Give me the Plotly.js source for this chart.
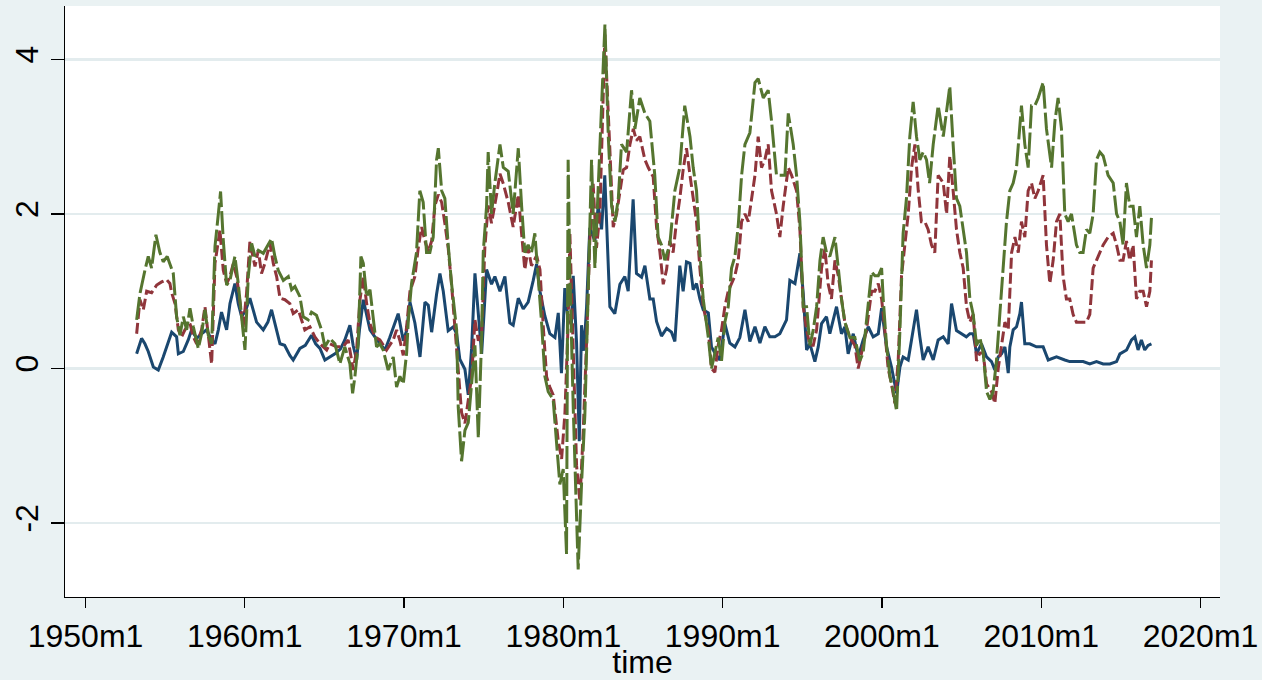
<!DOCTYPE html>
<html>
<head>
<meta charset="utf-8">
<script src="https://cdn.plot.ly/plotly-3.0.1.min.js"></script>
<style>html,body{margin:0;padding:0;background:#EAF2F3;}#chart{width:1262px;height:680px;}</style>
</head>
<body>
<div id="chart"></div>
<script>
// x tick positions (years) and labels
const tickYears = [1950, 1960, 1970, 1980, 1990, 2000, 2010, 2020];
const tickLabels = ["1950m1", "1960m1", "1970m1", "1980m1", "1990m1", "2000m1", "2010m1", "2020m1"];
const yTicks = [-2, 0, 2, 4];

// series 1 (navy, solid): [decimal year, value]
const seriesNavy = [[1953.21,0.19],[1953.52,0.39],[1953.73,0.32],[1953.94,0.22],[1954.26,0.02],[1954.57,-0.02],[1954.88,0.15],[1955.09,0.28],[1955.41,0.47],[1955.72,0.41],[1955.83,0.19],[1956.14,0.22],[1956.45,0.37],[1956.66,0.5],[1956.98,0.39],[1957.29,0.45],[1957.6,0.5],[1957.92,0.37],[1958.13,0.32],[1958.34,0.5],[1958.54,0.73],[1958.86,0.5],[1959.07,0.84],[1959.38,1.1],[1959.59,0.84],[1959.8,0.67],[1960.05,0.75],[1960.32,0.91],[1960.55,0.75],[1960.74,0.6],[1961.16,0.5],[1961.45,0.6],[1961.68,0.76],[1961.95,0.55],[1962.21,0.32],[1962.5,0.3],[1962.83,0.17],[1963.04,0.11],[1963.46,0.26],[1963.8,0.3],[1964.19,0.43],[1964.45,0.32],[1964.72,0.26],[1965.03,0.11],[1965.35,0.15],[1965.66,0.19],[1966.0,0.25],[1966.28,0.37],[1966.6,0.56],[1966.8,0.3],[1967.02,0.11],[1967.2,0.5],[1967.44,0.89],[1967.65,0.7],[1967.86,0.5],[1968.2,0.4],[1968.48,0.32],[1968.8,0.24],[1969.1,0.4],[1969.32,0.54],[1969.63,0.71],[1969.95,0.36],[1970.16,0.49],[1970.37,0.86],[1970.68,0.59],[1971.0,0.15],[1971.31,0.86],[1971.52,0.82],[1971.73,0.47],[1972.04,0.96],[1972.25,1.23],[1972.46,1.0],[1972.77,0.49],[1973.09,0.54],[1973.3,0.45],[1973.5,0.12],[1973.82,-0.01],[1974.03,-0.34],[1974.24,0.26],[1974.45,1.23],[1974.66,0.72],[1974.87,0.19],[1975.18,1.28],[1975.49,1.09],[1975.7,1.19],[1976.02,1.0],[1976.33,1.19],[1976.64,0.59],[1976.85,0.56],[1977.17,0.91],[1977.48,0.77],[1977.79,0.86],[1978.11,1.14],[1978.32,1.35],[1978.53,1.0],[1978.84,0.68],[1979.15,0.45],[1979.47,0.4],[1979.68,0.72],[1979.88,-0.06],[1980.09,1.04],[1980.3,0.61],[1980.51,0.59],[1980.62,1.2],[1980.83,0.33],[1981.0,-0.94],[1981.14,0.56],[1981.29,0.23],[1981.46,0.8],[1981.66,1.82],[1981.98,1.65],[1982.19,2.11],[1982.4,1.8],[1982.6,2.5],[1982.92,0.8],[1983.23,0.71],[1983.55,1.09],[1983.86,1.19],[1984.07,1.0],[1984.38,2.19],[1984.59,1.23],[1984.91,1.18],[1985.12,1.33],[1985.43,0.9],[1985.64,0.9],[1985.85,0.61],[1986.16,0.42],[1986.48,0.52],[1986.79,0.47],[1987.0,0.35],[1987.31,1.33],[1987.52,1.0],[1987.73,1.38],[1987.95,1.36],[1988.15,1.02],[1988.36,1.1],[1988.57,0.9],[1988.78,0.76],[1989.1,0.72],[1989.3,0.28],[1989.51,0.2],[1989.83,0.11],[1990.14,0.58],[1990.45,0.33],[1990.77,0.28],[1991.08,0.4],[1991.4,0.76],[1991.71,0.35],[1992.03,0.54],[1992.34,0.33],[1992.65,0.54],[1992.96,0.41],[1993.28,0.41],[1993.59,0.45],[1994.01,0.63],[1994.22,1.14],[1994.54,1.1],[1994.85,1.49],[1995.06,0.97],[1995.27,0.24],[1995.48,0.32],[1995.79,0.09],[1996.0,0.28],[1996.21,0.58],[1996.52,0.67],[1996.73,0.45],[1997.15,0.8],[1997.46,0.45],[1997.67,0.54],[1997.88,0.19],[1998.2,0.45],[1998.51,0.15],[1998.82,0.37],[1999.14,0.54],[1999.45,0.41],[1999.77,0.45],[1999.98,0.78],[2000.29,0.28],[2000.6,0.02],[2000.92,-0.32],[2001.13,0.02],[2001.33,0.15],[2001.65,0.11],[2001.96,0.5],[2002.17,0.76],[2002.38,0.41],[2002.59,0.11],[2002.9,0.28],[2003.22,0.11],[2003.53,0.37],[2003.85,0.41],[2004.16,0.32],[2004.37,0.84],[2004.68,0.49],[2004.99,0.45],[2005.3,0.41],[2005.52,0.45],[2005.73,0.45],[2005.94,0.19],[2006.25,0.32],[2006.57,0.15],[2006.88,0.09],[2007.09,-0.02],[2007.3,0.15],[2007.51,0.19],[2007.72,0.28],[2007.93,-0.06],[2008.03,0.28],[2008.24,0.5],[2008.45,0.54],[2008.66,0.71],[2008.76,0.86],[2008.97,0.32],[2009.28,0.32],[2009.7,0.28],[2010.12,0.28],[2010.44,0.11],[2010.96,0.15],[2011.48,0.11],[2011.79,0.09],[2012.21,0.09],[2012.63,0.09],[2013.05,0.06],[2013.47,0.09],[2013.89,0.06],[2014.31,0.06],[2014.73,0.09],[2014.94,0.19],[2015.36,0.24],[2015.67,0.37],[2015.88,0.41],[2016.08,0.24],[2016.29,0.37],[2016.5,0.24],[2016.71,0.3],[2016.92,0.32]];

// series 2 (maroon, dashed)
const seriesMaroon = [[1953.21,0.45],[1953.42,0.89],[1953.63,0.76],[1953.84,1.0],[1954.15,0.98],[1954.47,1.08],[1954.78,1.12],[1955.09,1.15],[1955.3,1.1],[1955.41,0.98],[1955.62,0.84],[1955.83,0.5],[1956.03,0.41],[1956.24,0.5],[1956.56,0.58],[1956.77,0.41],[1956.98,0.32],[1957.29,0.5],[1957.5,0.8],[1957.71,0.41],[1957.92,0.06],[1958.13,1.36],[1958.34,1.66],[1958.44,1.79],[1958.65,1.27],[1958.86,1.1],[1959.07,1.19],[1959.28,1.36],[1959.49,1.19],[1959.7,0.84],[1959.9,0.54],[1960.11,0.97],[1960.32,1.64],[1960.64,1.32],[1960.85,1.53],[1961.05,1.23],[1961.26,1.36],[1961.58,1.62],[1961.79,1.36],[1962.0,1.19],[1962.21,0.91],[1962.52,0.89],[1962.83,0.84],[1963.04,0.71],[1963.36,0.76],[1963.56,0.63],[1963.77,0.5],[1964.09,0.54],[1964.4,0.41],[1964.72,0.32],[1965.14,0.24],[1965.34,0.32],[1965.76,0.28],[1966.18,0.28],[1966.49,0.37],[1966.81,-0.02],[1967.02,0.24],[1967.23,0.89],[1967.44,1.19],[1967.65,0.84],[1967.86,0.58],[1968.17,0.41],[1968.48,0.37],[1968.9,0.24],[1969.32,0.37],[1969.53,0.5],[1969.74,0.36],[1969.95,0.17],[1970.16,0.54],[1970.37,1.0],[1970.68,1.19],[1970.89,1.56],[1971.1,1.83],[1971.31,1.65],[1971.52,1.51],[1971.73,1.65],[1971.94,2.11],[1972.15,2.25],[1972.36,2.15],[1972.56,1.88],[1972.77,1.56],[1972.98,1.09],[1973.19,0.54],[1973.4,0.03],[1973.61,-0.57],[1973.82,-0.71],[1974.03,-0.43],[1974.24,-0.11],[1974.45,0.63],[1974.66,0.36],[1974.87,0.45],[1975.07,1.56],[1975.28,2.11],[1975.49,1.88],[1975.81,2.25],[1976.02,2.52],[1976.23,2.39],[1976.54,2.15],[1976.85,1.83],[1977.17,2.25],[1977.38,1.74],[1977.58,1.28],[1977.79,1.56],[1978.0,1.33],[1978.32,1.46],[1978.53,1.28],[1978.74,0.54],[1978.95,-0.11],[1979.15,-0.24],[1979.36,-0.34],[1979.68,-0.94],[1979.89,-1.17],[1980.1,-0.57],[1980.3,0.59],[1980.41,1.74],[1980.62,0.08],[1980.83,-1.26],[1981.04,-1.72],[1981.25,-0.8],[1981.46,0.36],[1981.66,1.65],[1981.87,2.39],[1982.08,1.56],[1982.29,2.0],[1982.5,3.35],[1982.61,4.32],[1982.71,3.82],[1982.92,2.75],[1983.13,1.83],[1983.34,2.0],[1983.55,2.29],[1983.76,2.57],[1983.97,2.6],[1984.18,2.9],[1984.39,3.1],[1984.59,2.95],[1984.8,3.0],[1985.12,2.7],[1985.33,2.6],[1985.64,2.48],[1985.85,1.83],[1986.06,1.51],[1986.27,1.09],[1986.48,1.28],[1986.68,1.65],[1986.89,1.5],[1987.1,1.9],[1987.31,2.2],[1987.52,2.57],[1987.73,2.85],[1987.95,2.5],[1988.15,2.2],[1988.36,1.9],[1988.57,1.3],[1988.78,0.8],[1989.1,0.5],[1989.3,0.0],[1989.51,-0.05],[1989.72,0.3],[1989.93,0.5],[1990.14,0.8],[1990.35,1.0],[1990.56,1.1],[1990.77,1.2],[1990.98,1.4],[1991.19,1.9],[1991.4,2.0],[1991.61,1.9],[1991.82,2.2],[1992.03,2.5],[1992.23,3.0],[1992.44,2.6],[1992.65,2.7],[1992.86,2.9],[1993.07,2.3],[1993.38,2.0],[1993.59,1.7],[1993.8,2.1],[1994.12,2.6],[1994.33,2.5],[1994.64,2.3],[1994.85,1.8],[1995.06,0.8],[1995.27,0.5],[1995.48,0.3],[1995.69,0.3],[1995.9,0.5],[1996.21,1.3],[1996.42,1.55],[1996.62,1.1],[1996.83,0.9],[1997.05,1.4],[1997.26,1.2],[1997.46,0.9],[1997.67,0.6],[1997.99,0.4],[1998.3,0.3],[1998.51,0.0],[1998.72,0.2],[1999.03,0.5],[1999.35,1.0],[1999.56,1.0],[1999.77,1.1],[1999.98,0.9],[2000.18,0.5],[2000.39,0.0],[2000.6,-0.2],[2000.81,-0.45],[2001.02,0.1],[2001.23,1.2],[2001.44,1.6],[2001.65,2.0],[2001.86,2.6],[2002.07,2.9],[2002.28,2.3],[2002.48,1.9],[2002.69,1.9],[2002.9,1.8],[2003.11,1.6],[2003.32,1.5],[2003.53,2.5],[2003.85,2.4],[2004.06,2.0],[2004.26,2.75],[2004.47,2.3],[2004.68,1.8],[2004.89,1.5],[2005.1,1.3],[2005.31,0.8],[2005.52,0.6],[2005.73,0.7],[2005.94,0.1],[2006.15,0.2],[2006.36,0.2],[2006.57,-0.2],[2006.88,-0.3],[2007.09,-0.45],[2007.3,0.0],[2007.51,0.3],[2007.72,0.6],[2007.93,0.5],[2008.14,1.5],[2008.35,1.7],[2008.56,1.5],[2008.76,1.9],[2008.97,1.7],[2009.18,2.3],[2009.39,2.4],[2009.6,2.2],[2009.81,2.3],[2010.12,2.5],[2010.33,1.6],[2010.54,1.1],[2010.75,1.4],[2010.96,1.9],[2011.17,2.0],[2011.37,1.2],[2011.58,0.9],[2011.79,0.9],[2012.0,0.7],[2012.21,0.6],[2012.42,0.6],[2012.63,0.6],[2012.84,0.6],[2013.05,0.7],[2013.26,1.3],[2013.47,1.4],[2013.68,1.5],[2013.89,1.6],[2014.2,1.7],[2014.52,1.75],[2014.73,1.6],[2014.94,1.4],[2015.14,1.4],[2015.35,1.65],[2015.56,1.4],[2015.77,1.6],[2015.98,0.9],[2016.19,1.0],[2016.4,1.0],[2016.61,0.8],[2016.82,1.0],[2016.92,1.4]];

// series 3 (forest green, long dash)
const seriesGreen = [[1953.21,0.63],[1953.42,0.97],[1953.73,1.27],[1953.94,1.45],[1954.15,1.3],[1954.42,1.73],[1954.67,1.5],[1954.88,1.38],[1955.13,1.45],[1955.3,1.36],[1955.51,1.23],[1955.72,0.67],[1955.93,0.43],[1956.14,0.67],[1956.35,0.5],[1956.56,0.78],[1956.77,0.54],[1957.08,0.26],[1957.29,0.45],[1957.5,0.76],[1957.71,0.43],[1957.92,0.32],[1958.13,1.58],[1958.34,2.0],[1958.48,2.29],[1958.65,1.66],[1958.86,1.08],[1959.07,1.14],[1959.38,1.45],[1959.59,1.1],[1959.8,0.67],[1960.01,0.24],[1960.22,1.19],[1960.43,1.62],[1960.64,1.45],[1960.85,1.53],[1961.16,1.49],[1961.48,1.62],[1961.68,1.68],[1961.89,1.45],[1962.1,1.27],[1962.42,1.14],[1962.73,1.19],[1962.94,1.02],[1963.15,1.06],[1963.46,0.93],[1963.67,0.67],[1963.98,0.63],[1964.19,0.73],[1964.5,0.69],[1964.82,0.5],[1965.03,0.28],[1965.34,0.39],[1965.66,0.32],[1965.97,0.06],[1966.28,0.28],[1966.6,0.06],[1966.77,-0.32],[1966.91,-0.11],[1967.12,0.32],[1967.29,1.45],[1967.44,1.36],[1967.65,0.93],[1967.86,1.02],[1968.06,0.67],[1968.27,0.28],[1968.48,0.32],[1968.69,0.24],[1969.0,-0.02],[1969.32,0.15],[1969.53,-0.24],[1969.74,-0.1],[1969.95,-0.2],[1970.16,0.2],[1970.26,0.6],[1970.47,1.1],[1970.78,1.5],[1970.99,2.3],[1971.2,2.15],[1971.41,1.5],[1971.62,1.5],[1971.83,1.7],[1972.04,2.7],[1972.15,2.85],[1972.36,2.3],[1972.56,2.2],[1972.77,1.6],[1972.98,1.1],[1973.3,0.5],[1973.4,-0.5],[1973.61,-1.2],[1973.82,-0.8],[1974.03,-0.7],[1974.24,-0.2],[1974.45,0.3],[1974.66,-0.9],[1974.87,0.4],[1974.97,1.5],[1975.18,2.1],[1975.28,2.8],[1975.49,2.0],[1975.7,2.4],[1976.02,2.9],[1976.23,2.6],[1976.54,2.55],[1976.85,2.0],[1977.17,2.85],[1977.38,2.1],[1977.58,1.5],[1977.79,1.6],[1978.0,1.5],[1978.21,1.75],[1978.42,1.2],[1978.63,0.6],[1978.84,-0.1],[1979.05,-0.3],[1979.36,-0.4],[1979.57,-1.0],[1979.78,-1.5],[1979.99,-1.3],[1980.2,-2.4],[1980.3,2.7],[1980.41,1.2],[1980.62,-0.5],[1980.83,-1.8],[1980.93,-2.6],[1981.14,-1.5],[1981.35,-0.6],[1981.56,1.0],[1981.77,2.7],[1981.98,1.3],[1982.19,2.3],[1982.4,3.3],[1982.61,4.45],[1982.82,3.0],[1983.03,2.1],[1983.24,1.9],[1983.45,2.2],[1983.65,2.9],[1983.97,2.8],[1984.28,3.6],[1984.49,3.1],[1984.8,3.5],[1985.12,3.3],[1985.43,3.2],[1985.74,2.5],[1985.95,1.7],[1986.16,1.6],[1986.37,1.4],[1986.68,1.6],[1987.0,2.3],[1987.31,2.6],[1987.62,3.4],[1987.95,3.0],[1988.15,2.6],[1988.36,2.3],[1988.57,1.5],[1988.78,0.9],[1989.1,0.4],[1989.3,0.0],[1989.51,0.2],[1989.72,0.4],[1989.93,0.1],[1990.14,0.6],[1990.35,0.8],[1990.56,1.3],[1990.77,1.45],[1990.98,1.85],[1991.19,2.5],[1991.4,2.9],[1991.71,3.05],[1992.03,3.7],[1992.23,3.75],[1992.55,3.5],[1992.86,3.6],[1993.07,3.2],[1993.38,2.5],[1993.7,2.5],[1993.91,2.5],[1994.12,3.3],[1994.43,2.9],[1994.64,2.5],[1994.85,1.9],[1995.06,0.8],[1995.27,0.8],[1995.48,0.3],[1995.69,0.5],[1995.9,0.8],[1996.11,1.4],[1996.31,1.7],[1996.52,1.5],[1996.73,1.45],[1997.05,1.7],[1997.26,1.3],[1997.46,0.9],[1997.67,0.6],[1997.99,0.4],[1998.3,0.4],[1998.61,0.1],[1998.82,0.2],[1999.03,0.6],[1999.35,1.25],[1999.56,1.2],[1999.77,1.2],[1999.98,1.3],[2000.08,0.9],[2000.29,0.3],[2000.5,-0.1],[2000.71,-0.3],[2000.92,-0.55],[2001.13,0.5],[2001.33,1.75],[2001.54,2.2],[2001.75,3.0],[2001.96,3.45],[2002.17,3.0],[2002.38,2.7],[2002.59,2.8],[2002.8,2.7],[2002.99,2.4],[2003.22,2.9],[2003.53,3.4],[2003.85,3.0],[2004.06,3.3],[2004.26,3.65],[2004.47,2.9],[2004.68,2.2],[2004.89,2.1],[2005.1,1.8],[2005.31,1.5],[2005.52,0.9],[2005.73,0.7],[2005.94,0.3],[2006.15,0.4],[2006.36,0.2],[2006.57,-0.3],[2006.78,-0.4],[2006.98,-0.3],[2007.19,0.1],[2007.4,0.7],[2007.61,1.3],[2007.82,1.9],[2008.03,2.3],[2008.24,2.4],[2008.45,2.6],[2008.66,3.1],[2008.76,3.4],[2008.97,2.9],[2009.18,2.6],[2009.39,3.4],[2009.6,3.4],[2009.81,3.5],[2010.12,3.7],[2010.33,3.1],[2010.65,2.6],[2010.86,3.2],[2011.06,3.5],[2011.27,3.1],[2011.48,2.0],[2011.69,1.9],[2011.9,2.0],[2012.21,1.6],[2012.42,1.5],[2012.63,1.5],[2012.84,1.8],[2013.05,1.75],[2013.26,2.0],[2013.47,2.7],[2013.68,2.8],[2013.89,2.75],[2014.2,2.5],[2014.52,2.4],[2014.73,2.0],[2014.94,1.9],[2015.14,1.6],[2015.35,2.4],[2015.56,2.1],[2015.77,2.1],[2015.98,1.7],[2016.19,2.1],[2016.4,1.6],[2016.61,1.3],[2016.82,1.6],[2016.92,1.95]];

function mk(series, color, dash) {
  return {
    x: series.map(p => p[0]),
    y: series.map(p => p[1]),
    type: 'scatter',
    mode: 'lines',
    line: {color: color, width: 3, dash: dash},
    hoverinfo: 'skip',
    showlegend: false
  };
}

const data = [
  mk(seriesNavy, '#1a476f', 'solid'),
  mk(seriesMaroon, '#90353b', '11px,4px'),
  mk(seriesGreen, '#55752f', '23px,4px')
];

const font = {family: '"Liberation Sans", Arial, sans-serif', size: 32, color: '#000'};

const layout = {
  width: 1262, height: 680,
  paper_bgcolor: '#EAF2F3',
  plot_bgcolor: '#FFFFFF',
  margin: {l: 65, r: 42, t: 6, b: 83, pad: 0},
  font: font,
  showlegend: false,
  xaxis: {
    range: [1948.713, 2021.224],
    tickmode: 'array', tickvals: tickYears, ticktext: tickLabels,
    ticks: 'outside', ticklen: 10, tickwidth: 1.3, tickcolor: '#000',
    showline: true, linecolor: '#000', linewidth: 1.3,
    showgrid: false, zeroline: false,
    tickfont: font,
    title: {text: 'time', font: font, standoff: 0},
    automargin: false
  },
  yaxis: {
    range: [-2.956, 4.690],
    tickmode: 'array', tickvals: yTicks, ticktext: yTicks.map(String),
    tickangle: -90,
    ticks: 'outside', ticklen: 13, tickwidth: 1.3, tickcolor: '#000',
    showline: true, linecolor: '#000', linewidth: 1.3,
    showgrid: true, gridcolor: '#E3ECEE', gridwidth: 2.5,
    zeroline: false,
    tickfont: font,
    automargin: false
  }
};

Plotly.newPlot('chart', data, layout, {staticPlot: true, displayModeBar: false});
</script>
</body>
</html>
